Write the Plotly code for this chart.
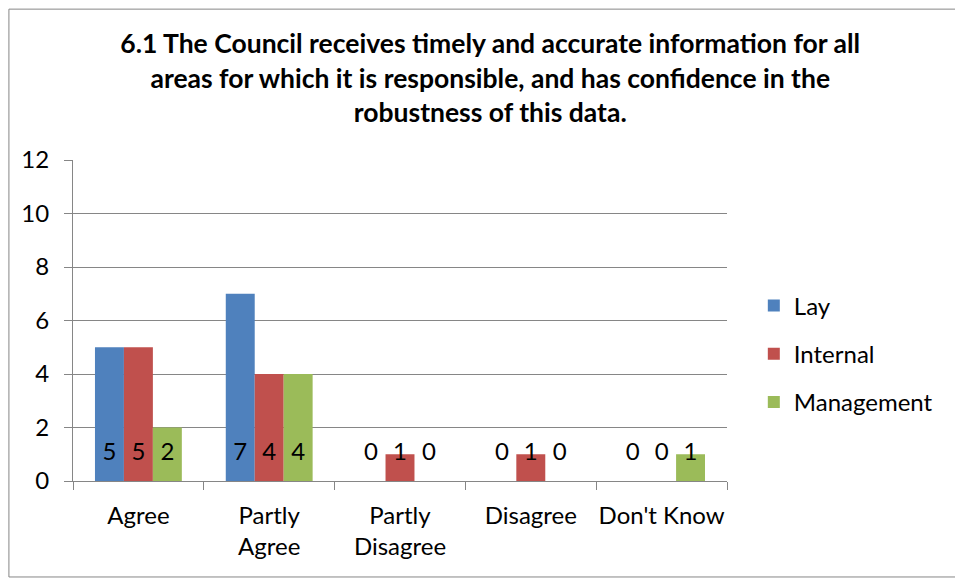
import plotly.graph_objects as go

categories = ["Agree", "Partly<br>Agree", "Partly<br>Disagree", "Disagree", "Don't Know"]
series_names = ["Lay", "Internal", "Management"]
lay = [5, 7, 0, 0, 0]
internal = [5, 4, 1, 1, 0]
management = [2, 4, 0, 0, 1]
colors = ["#4F81BD", "#C0504D", "#9BBB59"]
y_ticks = [0, 2, 4, 6, 8, 10, 12]

FONT = "Lato"
FS = 24
fig = go.Figure()
all_vals = [lay, internal, management]
for name, vals, col in zip(series_names, all_vals, colors):
    fig.add_trace(go.Bar(name=name, x=categories, y=vals, marker=dict(color=col, line=dict(width=0)),
                         offsetgroup=name, legendgroup=name))
for name, vals, col in zip(series_names, all_vals, colors):
    fig.add_trace(go.Scatter(x=categories, y=[0] * len(vals), mode="markers+text",
                             text=[str(v) for v in vals], textposition="top center",
                             marker=dict(size=22, opacity=0), offsetgroup=name,
                             textfont=dict(family=FONT, size=FS, color="black"),
                             showlegend=False, hoverinfo="skip", cliponaxis=False))

fig.update_layout(
    width=955, height=573,
    margin=dict(l=65, r=236, t=152, b=100),
    paper_bgcolor="white", plot_bgcolor="white",
    barmode="group", bargap=0.336, bargroupgap=0,
    scattermode="group", scattergap=0.336,
    font=dict(family=FONT, size=FS, color="black"),
    title=dict(text="<b>6.1 The Council receives timely and accurate information for all<br>areas for which it is responsible, and has confidence in the<br>robustness of this data.</b>",
               x=0.505, xanchor="center", y=0.921, yanchor="top",
               font=dict(family=FONT, size=26.5, color="black")),
    legend=dict(x=1.041, y=0.396, xanchor="left", yanchor="middle",
                font=dict(family=FONT, size=FS), tracegroupgap=14,
                itemwidth=30, bgcolor="rgba(0,0,0,0)"),
    showlegend=True,
)
fig.update_xaxes(showline=True, linecolor="#868686", linewidth=1, ticks="outside",
                 tickson="boundaries", ticklen=8, tickcolor="#868686", tickangle=0,
                 automargin=False, ticklabelstandoff=13,
                 tickfont=dict(family=FONT, size=FS), showgrid=False)
fig.update_yaxes(range=[0, 12], tickvals=y_ticks, showline=True, linecolor="#868686", linewidth=1,
                 ticks="outside", ticklen=8, tickcolor="#868686", gridcolor="#868686", gridwidth=1,
                 automargin=False,
                 tickfont=dict(family=FONT, size=FS), zeroline=False, ticklabelstandoff=10)
fig.add_shape(type="rect", xref="paper", yref="paper", x0=-0.098, x1=1.353, y0=-0.299, y1=1.470,
              line=dict(color="#868686", width=1), fillcolor="rgba(0,0,0,0)", layer="below")
fig.write_html("out.html")
